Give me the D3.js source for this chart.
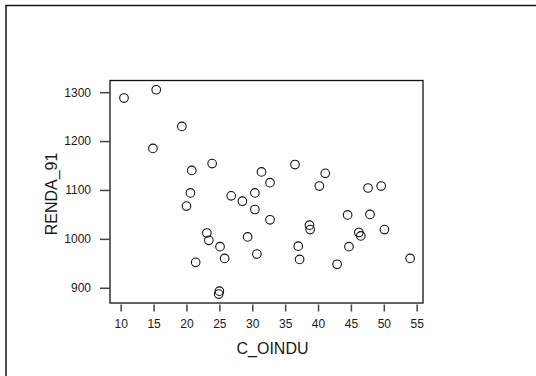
<!DOCTYPE html>
<html>
<head>
<meta charset="utf-8">
<script src="https://cdn.jsdelivr.net/npm/d3@7"></script>
<style>
  html, body { margin: 0; padding: 0; background: #fff; }
  svg { display: block; font-family: "Liberation Sans", Arial, sans-serif; }
</style>
</head>
<body>
<svg id="chart" width="536" height="376"></svg>
<script>
// C_OINDU vs RENDA_91 observations
const cOindu = [10.5, 15.4, 19.3, 14.9, 23.9, 20.8, 20.6, 20.0, 26.8, 28.5, 30.4,
  30.4, 31.4, 32.7, 32.7, 36.5, 40.2, 41.1, 38.7, 38.8, 37.0, 37.2, 42.9, 44.5,
  44.7, 46.2, 46.5, 47.6, 47.9, 49.6, 50.1, 54.0, 23.1, 23.4, 21.4, 25.1, 25.8,
  25.0, 24.9, 29.3, 30.7];
const renda91 = [1288, 1305, 1230, 1185, 1154, 1140, 1094, 1067, 1088, 1077, 1094,
  1060, 1137, 1115, 1039, 1152, 1108, 1134, 1028, 1019, 985, 958, 948, 1049,
  984, 1013, 1006, 1104, 1050, 1108, 1019, 960, 1012, 997, 952, 984, 960,
  893, 887, 1004, 969];
const xTicks = [10, 15, 20, 25, 30, 35, 40, 45, 50, 55];
const yTicks = [900, 1000, 1100, 1200, 1300];

const svg = d3.select("#chart");
const frame = { left: 110, right: 423, top: 80.5, bottom: 303 };

// outer panel border (left and top edges)
svg.append("path")
  .attr("d", "M6,376V5.5H536")
  .attr("fill", "none")
  .attr("stroke", "#111")
  .attr("stroke-width", 1.5);

const x = d3.scaleLinear().domain([8.373, 55.96]).range([frame.left, frame.right]);
const y = d3.scaleLinear().domain([868.8, 1323.9]).range([frame.bottom, frame.top]);

// plot frame
svg.append("rect")
  .attr("x", frame.left).attr("y", frame.top)
  .attr("width", frame.right - frame.left)
  .attr("height", frame.bottom - frame.top)
  .attr("fill", "none")
  .attr("stroke", "#111")
  .attr("stroke-width", 1.3);

// x axis
const gx = svg.append("g")
  .attr("transform", `translate(0,${frame.bottom + 1.5})`)
  .call(d3.axisBottom(x).tickValues(xTicks).tickFormat(d3.format("d"))
    .tickSize(7).tickSizeOuter(0).tickPadding(8));
gx.select(".domain").remove();

// y axis
const gy = svg.append("g")
  .attr("transform", `translate(${frame.left},0)`)
  .call(d3.axisLeft(y).tickValues(yTicks).tickFormat(d3.format("d"))
    .tickSize(10).tickSizeOuter(0).tickPadding(9));
gy.select(".domain").remove();

[gx, gy].forEach(g => {
  g.selectAll(".tick line").attr("stroke", "#444").attr("stroke-width", 1.5);
  g.selectAll(".tick text")
    .attr("fill", "#1a1a1a")
    .style("font-size", "12px")
    .style("font-family", "'Liberation Sans', Arial, sans-serif");
});

// axis titles
svg.append("text")
  .attr("x", 272.5).attr("y", 354)
  .attr("text-anchor", "middle")
  .attr("fill", "#1a1a1a")
  .style("font-size", "16px")
  .text("C_OINDU");

svg.append("text")
  .attr("transform", "translate(57,194) rotate(-90)")
  .attr("text-anchor", "middle")
  .attr("fill", "#1a1a1a")
  .style("font-size", "16px")
  .text("RENDA_91");

// points
svg.append("g")
  .selectAll("circle")
  .data(cOindu.map((v, i) => [v, renda91[i]]))
  .join("circle")
  .attr("cx", d => x(d[0]))
  .attr("cy", d => y(d[1]))
  .attr("r", 4.3)
  .attr("fill", "none")
  .attr("stroke", "#111")
  .attr("stroke-width", 1.1);
</script>
</body>
</html>
